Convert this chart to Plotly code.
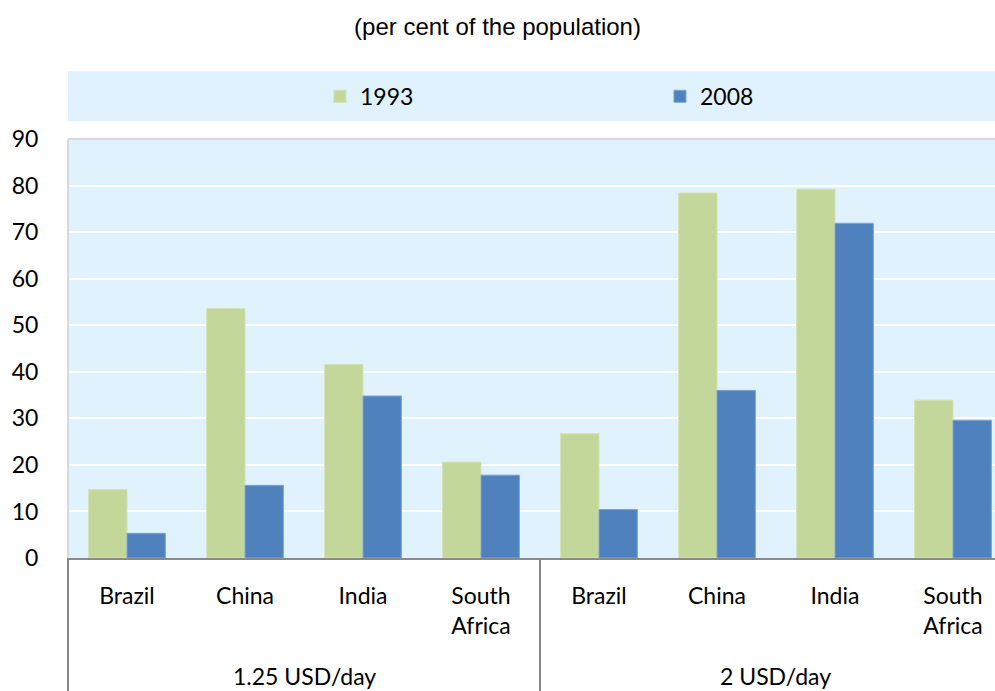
import plotly.graph_objects as go

# Poverty headcount shares, two thresholds, four countries each
thresholds = ["1.25 USD/day", "2 USD/day"]
countries = ["Brazil", "China", "India", "South<br>Africa"]
share_1993 = [14.7, 53.6, 41.6, 20.6, 26.7, 78.4, 79.2, 33.9]
share_2008 = [5.3, 15.6, 34.8, 17.8, 10.4, 36.0, 71.9, 29.6]
year_labels = ["1993", "2008"]

GREEN = "#C4D79B"
BLUE = "#4F81BD"
PANEL = "#DFF2FD"
LABEL_FONT = dict(family="Lato, Calibri, sans-serif", size=23, color="#000000")

tick_text = countries * len(thresholds)
x_pos = list(range(len(tick_text)))
x_range = [-0.5, 7.356]
span = x_range[1] - x_range[0]


def to_paper(xv):
    return (xv - x_range[0]) / span


fig = go.Figure()
fig.add_trace(go.Bar(
    x=x_pos, y=share_1993, name=year_labels[0], legend="legend", showlegend=True,
    marker=dict(color=GREEN, line=dict(color="#D3E2B3", width=1)),
))
fig.add_trace(go.Bar(
    x=x_pos, y=share_2008, name=year_labels[1], legend="legend2", showlegend=True,
    marker=dict(color=BLUE, line=dict(color="#7FA3D0", width=1)),
))

shapes = [
    # legend band above the plot
    dict(type="rect", xref="paper", yref="paper", x0=0, x1=1,
         y0=1.0422, y1=1.1615, fillcolor=PANEL, line=dict(width=0), layer="below"),
    # light frame on the left and top of the plot area
    dict(type="line", xref="paper", yref="paper", x0=0, x1=0, y0=0, y1=1,
         line=dict(color="#D9D9D9", width=2)),
    dict(type="line", xref="paper", yref="paper", x0=0, x1=1, y0=1, y1=1,
         line=dict(color="#D9D9D9", width=2)),
]
# separators between the threshold groups
for xv in (-0.5, 3.5):
    shapes.append(dict(type="line", xref="paper", yref="paper",
                       x0=to_paper(xv), x1=to_paper(xv), y0=0, y1=-0.35,
                       line=dict(color="#878787", width=2)))

annotations = [
    dict(text=t, xref="x", yref="paper", x=1.5 + 4 * i, y=-0.2816,
         xanchor="center", yanchor="middle", showarrow=False, font=LABEL_FONT)
    for i, t in enumerate(thresholds)
]

legend_common = dict(orientation="h", y=1.1018, xanchor="left", yanchor="middle",
                     xref="paper", yref="paper", bgcolor="rgba(0,0,0,0)",
                     font=LABEL_FONT)

fig.update_layout(
    width=995, height=691, autosize=False,
    margin=dict(l=68, r=0, t=139, b=133, pad=0),
    paper_bgcolor="#FFFFFF", plot_bgcolor=PANEL,
    showlegend=True,
    barmode="group", bargap=0.35, bargroupgap=0,
    title=dict(text="(per cent of the population)", xref="container", x=0.5,
               y=1 - 27 / 691, yanchor="middle", xanchor="center",
               font=dict(family="Liberation Sans, Arial, sans-serif", size=24, color="#000000")),
    legend=dict(x=0.2718, **legend_common),
    legend2=dict(x=0.6386, **legend_common),
    xaxis=dict(range=x_range, tickvals=x_pos, ticktext=tick_text,
               ticks="outside", ticklen=16, tickcolor="rgba(0,0,0,0)",
               showline=True, linecolor="#898989", linewidth=2,
               showgrid=False, zeroline=False, tickfont=LABEL_FONT, fixedrange=True),
    yaxis=dict(range=[0, 90], dtick=10, tick0=0,
               ticks="outside", ticklen=24, tickcolor="rgba(0,0,0,0)",
               showgrid=True, gridcolor="#FFFFFF", gridwidth=2,
               zeroline=False, showline=False, tickfont=LABEL_FONT, fixedrange=True),
    shapes=shapes,
    annotations=annotations,
)

fig.write_html("out.html")
